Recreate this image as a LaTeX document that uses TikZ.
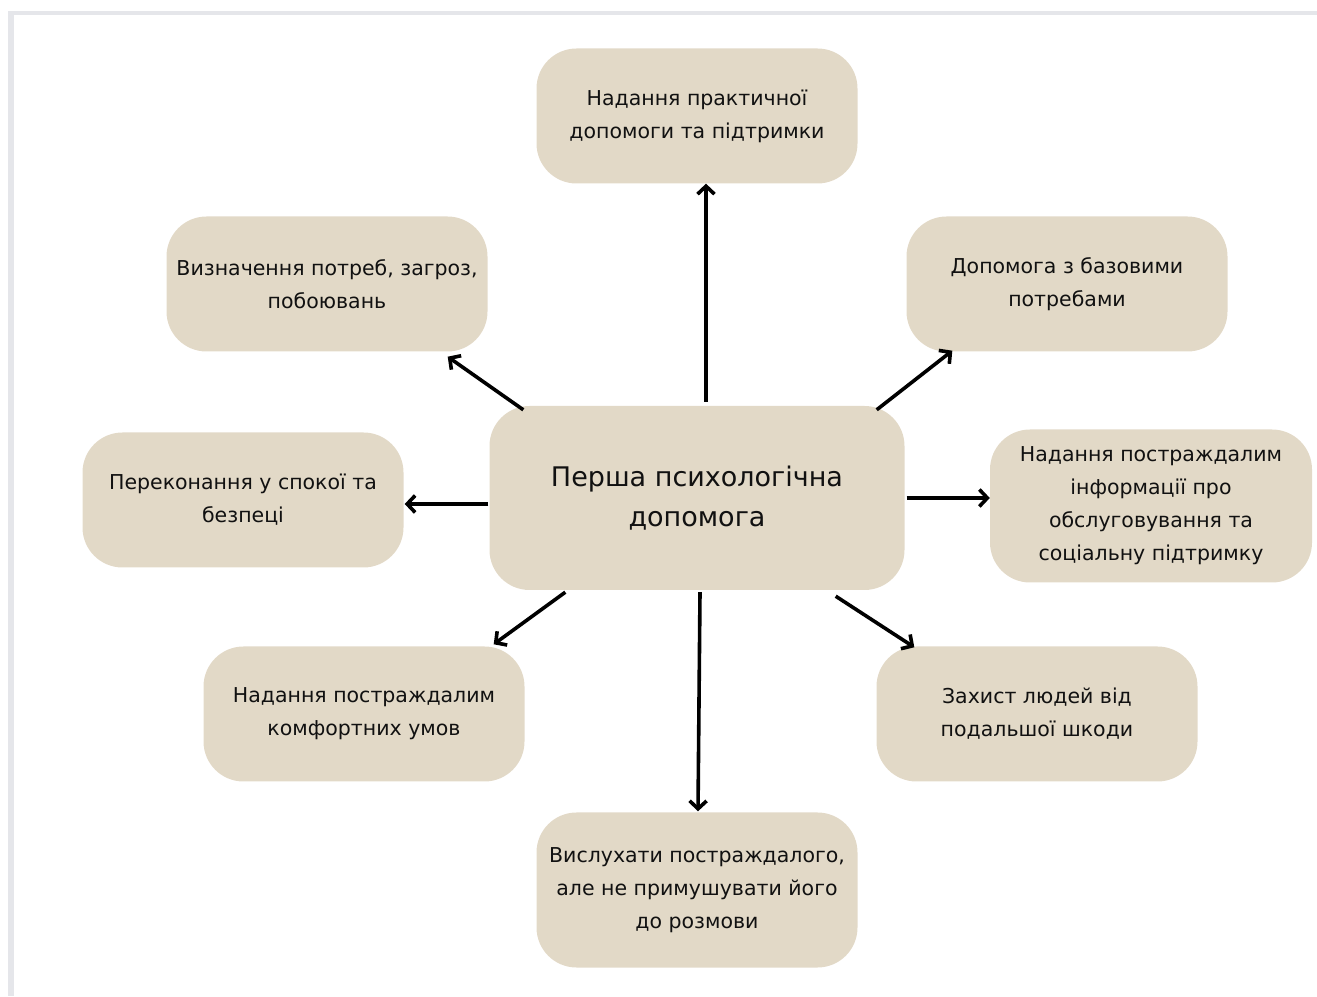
\documentclass[tikz,border=0pt]{standalone}
\usepackage{fontspec}
\setmainfont{DejaVu Sans}
\usetikzlibrary{arrows.meta}
\definecolor{boxfill}{HTML}{E2D9C7}
\definecolor{frame}{HTML}{E5E6EA}
\definecolor{ink}{HTML}{111111}
\tikzset{
  item/.style={fill=boxfill, rounded corners=40pt, minimum width=321pt,
    minimum height=135pt, align=center, text=ink, inner sep=0pt,
    font=\fontsize{20.5}{33}\selectfont},
  hubbox/.style={item, minimum width=415pt, minimum height=184pt,
    font=\fontsize{27}{40}\selectfont},
  arrow/.style={draw=black, line width=3.6pt,
    -{Straight Barb[length=8pt, width=17pt]}}
}

\begin{document}
\begin{tikzpicture}[x=1pt, y=1pt]
  \useasboundingbox (0,0) rectangle (1317,996);
  % page frame
  \fill[frame] (8,981) rectangle (1317,985);
  \fill[frame] (8,0) rectangle (14,985);

  \node[hubbox] (hub) at (697,498) {Перша психологічна\\допомога};

  \node[item] (top) at (697,880) {Надання практичної\\допомоги та підтримки};
  \node[item] (tl) at (327,712) {Визначення потреб, загроз,\\побоювань};
  \node[item] (tr) at (1067,712) {Допомога з базовими\\потребами};
  \node[item] (lft) at (243,496) {Переконання у спокої та\\безпеці};
  \node[item, minimum width=322pt, minimum height=153pt] (rgt) at (1151,490)
    {Надання постраждалим\\інформації про\\обслуговування та\\соціальну підтримку};
  \node[item] (bl) at (364,282) {Надання постраждалим\\комфортних умов};
  \node[item] (br) at (1037,282) {Захист людей від\\подальшої шкоди};
  \node[item, minimum height=155pt] (bot) at (697,106)
    {Вислухати постраждалого,\\але не примушувати його\\до розмови};

  % arrows out of the hub
  \draw[arrow] ([xshift=9pt, yshift=4pt]hub.north) -- ([xshift=9pt]top.south);
  \draw[arrow] ([xshift=34pt, yshift=-4pt]hub.north west) -- ([xshift=-40pt, yshift=-5pt]tl.south east);
  \draw[arrow] ([xshift=-28pt, yshift=-4pt]hub.north east) -- ([xshift=46pt, yshift=1pt]tr.south west);
  \draw[arrow] ([xshift=-1pt, yshift=-6pt]hub.west) -- ([xshift=1pt, yshift=-4pt]lft.east);
  \draw[arrow] ([xshift=2pt]hub.east) -- (hub.east -| rgt.west);
  \draw[arrow] ([xshift=76pt, yshift=-2pt]hub.south west) -- ([xshift=-31pt, yshift=2pt]bl.north east);
  \draw[arrow] ([xshift=3pt, yshift=-2pt]hub.south) -- ([xshift=1pt, yshift=1pt]bot.north);
  \draw[arrow] ([xshift=-69pt, yshift=-6pt]hub.south east) -- ([xshift=38pt, yshift=-1pt]br.north west);
\end{tikzpicture}
\end{document}
